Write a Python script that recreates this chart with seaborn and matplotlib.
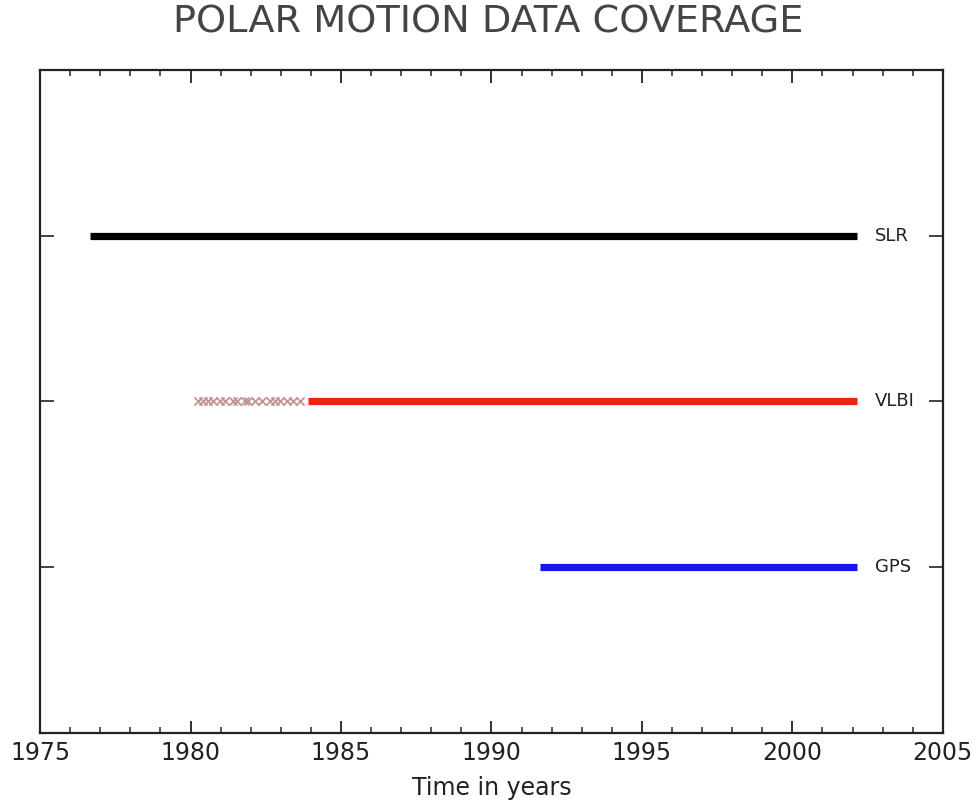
import pandas as pd
import matplotlib
matplotlib.use("Agg")
import matplotlib.pyplot as plt
import seaborn as sns
from matplotlib.ticker import MultipleLocator

# data
series = ["SLR", "VLBI", "GPS"]
levels = [3, 2, 1]
starts = [1976.66, 1983.9, 1991.6]
ends = [2002.15, 2002.15, 2002.15]
colors = ["#000000", "#ee2211", "#1515ee"]

# sparse early VLBI epochs (single crosses before continuous coverage)
vlbi_early = [1980.25, 1980.42, 1980.58, 1980.75, 1980.98, 1981.15, 1981.41,
              1981.54, 1981.81, 1981.91, 1982.14, 1982.38, 1982.64, 1982.81,
              1982.97, 1983.21, 1983.41, 1983.64]

sns.set_style("ticks")
plt.rcParams["font.family"] = ["DejaVu Sans"]

# segments table
rows = []
for name, lev, s, e in zip(series, levels, starts, ends):
    rows.append({"year": s, "level": lev, "series": name})
    rows.append({"year": e, "level": lev, "series": name})
df = pd.DataFrame(rows)

early = pd.DataFrame({"year": vlbi_early, "level": [levels[1]] * len(vlbi_early)})

fig = plt.figure(figsize=(9.77, 8.08), dpi=100)
ax = fig.add_axes([0.041, 0.0928, 0.924, 0.8206])

sns.lineplot(data=df, x="year", y="level", hue="series",
             palette=dict(zip(series, colors)), linewidth=5.2,
             estimator=None, sort=False, legend=False, ax=ax,
             solid_capstyle="butt")

sns.scatterplot(data=early, x="year", y="level", marker="x", s=34,
                color="#c49494", linewidth=1.3, ax=ax, legend=False)

# series names inside the right edge
for name, lev in zip(series, levels):
    ax.text(2002.75, lev, name, fontsize=13, color="#222222",
            va="center", ha="left")

ax.set_xlim(1975, 2005)
ax.set_ylim(0, 4)
ax.xaxis.set_major_locator(MultipleLocator(5))
ax.xaxis.set_minor_locator(MultipleLocator(1))
ax.set_yticks(levels)
ax.set_yticklabels([])

ax.tick_params(axis="x", which="major", direction="in", length=9, width=1.3,
               top=True, bottom=True, labelsize=17, pad=6, colors="#222222")
ax.tick_params(axis="x", which="minor", direction="in", length=4.5, width=1.1,
               top=True, bottom=True)
ax.tick_params(axis="y", which="major", direction="in", length=10, width=1.2,
               left=True, right=True, colors="#222222")

for sp in ax.spines.values():
    sp.set_linewidth(1.6)
    sp.set_color("#222222")

ax.set_xlabel("Time in years", fontsize=17, color="#222222", labelpad=8)
ax.set_ylabel("")
fig.suptitle("POLAR MOTION DATA COVERAGE", fontsize=27.5, color="#444444",
             y=0.995, va="top")

plt.savefig("out.png", dpi=100)
